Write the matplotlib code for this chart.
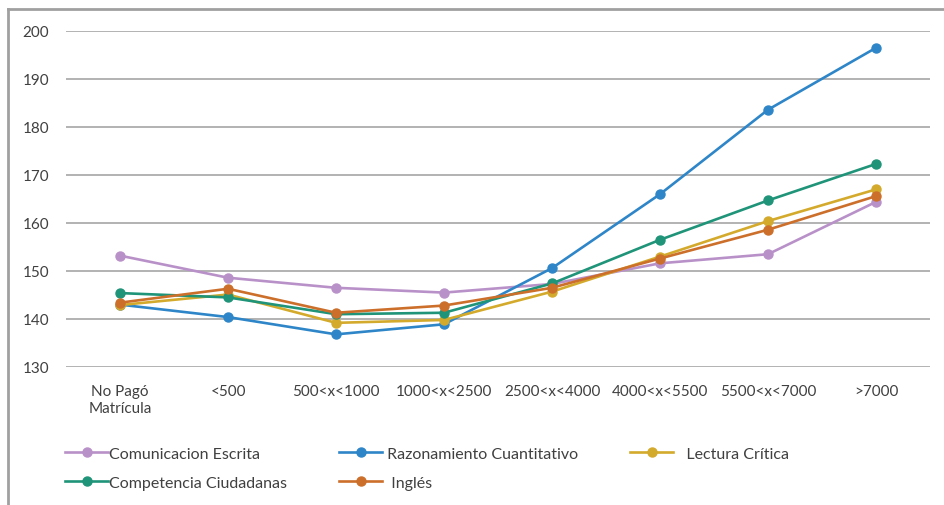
import numpy as np
import matplotlib
matplotlib.use("Agg")
import matplotlib.pyplot as plt
from matplotlib.lines import Line2D

categories = ["No Pagó\nMatrícula", "<500", "500<x<1000", "1000<x<2500",
              "2500<x<4000", "4000<x<5500", "5500<x<7000", ">7000"]

comunicacion = [153.2, 148.6, 146.5, 145.5, 147.3, 151.6, 153.5, 164.4]
razonamiento = [143.0, 140.4, 136.8, 138.9, 150.6, 166.0, 183.6, 196.5]
lectura = [142.9, 145.1, 139.2, 139.8, 145.7, 153.0, 160.4, 167.0]
competencia = [145.4, 144.5, 141.0, 141.3, 147.4, 156.5, 164.7, 172.3]
ingles = [143.4, 146.3, 141.3, 142.8, 146.5, 152.6, 158.6, 165.6]

series = [
    ("Comunicacion Escrita", comunicacion, "#b991c9"),
    ("Razonamiento Cuantitativo", razonamiento, "#2e86c8"),
    ("Lectura Crítica", lectura, "#d4aa2c"),
    ("Competencia Ciudadanas", competencia, "#1f9478"),
    ("Inglés", ingles, "#cc6f2b"),
]
# legend text as in the original (with its leading spaces)
legend_text = {"Comunicacion Escrita": "Comunicacion Escrita",
               "Razonamiento Cuantitativo": " Razonamiento Cuantitativo",
               "Lectura Crítica": "   Lectura Crítica",
               "Competencia Ciudadanas": "Competencia Ciudadanas",
               "Inglés": "  Inglés"}

plt.rcParams['font.family'] = ['Lato', 'DejaVu Sans']

fig = plt.figure(figsize=(9.45, 5.06), dpi=100)
ax = fig.add_axes([66/945, 1-368/506, (930-66)/945, (368-32)/506])

x = np.arange(len(categories))
handles = {}
for name, vals, col in series:
    h, = ax.plot(x, vals, color=col, lw=1.9, marker='o', markersize=6.5,
                 label=name, zorder=3)
    handles[name] = h

ax.set_xlim(-0.5, len(categories) - 0.5)
ax.set_ylim(130, 200)
ax.set_yticks(np.arange(130, 201, 10))
ax.set_xticks(x)
ax.set_xticklabels(categories, fontsize=11, color="#404040", linespacing=1.3)
ax.tick_params(axis='y', labelsize=11, labelcolor="#404040", length=0, pad=12)
ax.tick_params(axis='x', length=0, pad=12)
ax.grid(axis='y', color="#a6a6a6", lw=1.2)
ax.set_axisbelow(True)
for s in ax.spines.values():
    s.set_visible(False)

order = ["Comunicacion Escrita", "Competencia Ciudadanas",
         "Razonamiento Cuantitativo", "Inglés", "Lectura Crítica"]
leg = fig.legend([handles[n] for n in order], [legend_text[n] for n in order],
                 ncol=3, loc='upper left', bbox_to_anchor=(51/945, 1-433/506),
                 frameon=False, fontsize=11.5, handlelength=2.7,
                 handletextpad=0.05, columnspacing=3.25, labelspacing=0.95,
                 labelcolor="#404040")

# outer chart frame
fig.add_artist(Line2D([8/945, 1], [1-10/506, 1-10/506], color="#a0a0a0", lw=2,
                      transform=fig.transFigure))
fig.add_artist(Line2D([8/945, 8/945], [0, 1-10/506], color="#a0a0a0", lw=2,
                      transform=fig.transFigure))

fig.savefig("out.png", dpi=100)
